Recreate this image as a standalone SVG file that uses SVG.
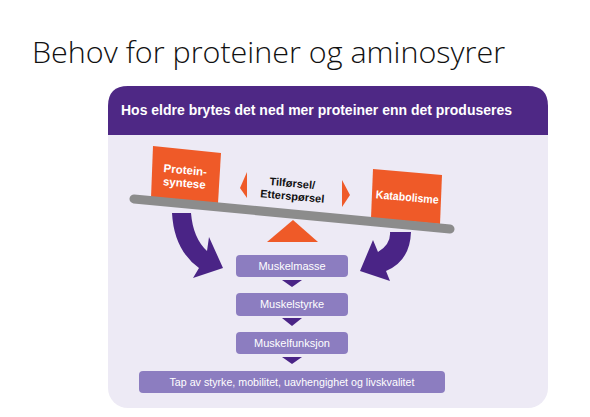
<svg xmlns="http://www.w3.org/2000/svg" width="590" height="417" viewBox="0 0 590 417">
<defs>
<style>
.title{font-family:"Open Sans","Liberation Sans",sans-serif;font-weight:300;font-size:29px;fill:#111}
.hdr{font-family:"Liberation Sans",Arial,sans-serif;font-weight:bold;font-size:15px;fill:#fff}
.ow{font-family:"Liberation Sans",Arial,sans-serif;font-weight:bold;font-size:11.5px;fill:#fff;text-anchor:middle}
.bk{font-family:"Liberation Sans",Arial,sans-serif;font-weight:bold;font-size:11px;fill:#111;text-anchor:middle}
.bx{fill:#8c7dc0}
.bt{font-family:"Liberation Sans",Arial,sans-serif;font-size:11px;fill:#fff;text-anchor:middle}
.org{fill:#ef5a28}
.dp{fill:#4a2486}
</style>
</defs>
<rect width="590" height="417" fill="#fff"/>
<text class="title" x="32" y="63" textLength="473" lengthAdjust="spacingAndGlyphs">Behov for proteiner og aminosyrer</text>

<g id="panel">
<rect x="108" y="86" width="440" height="322" rx="20" fill="#edeaf5"/>
<path d="M108,135 L108,106 Q108,86 128,86 L528,86 Q548,86 548,106 L548,135 Z" fill="#4e2885"/>
<text class="hdr" x="121" y="115" textLength="391" lengthAdjust="spacingAndGlyphs">Hos eldre brytes det ned mer proteiner enn det produseres</text>
</g>

<g id="proteinsyntese">
<polygon class="org" points="153,146 221,153 218,203 151,198"/>
<text class="ow" x="185" y="174" transform="rotate(5 185 174)">Protein-</text>
<text class="ow" x="184" y="187" transform="rotate(5 184 187)">syntese</text>
</g>

<g id="katabolisme">
<polygon class="org" points="373,169 442,175 440,224 371,218"/>
<text class="ow" x="407" y="201" transform="rotate(5 407 201)" textLength="63" lengthAdjust="spacingAndGlyphs">Katabolisme</text>
</g>

<g id="tilforsel">
<polygon class="org" points="240,188 247,172 247,198"/>
<polygon class="org" points="350,195 342,180 342,207"/>
<text class="bk" x="292" y="187" transform="rotate(5 292 187)">Tilførsel/</text>
<text class="bk" x="292" y="200" transform="rotate(5 292 200)">Etterspørsel</text>
</g>

<g id="beam">
<line x1="134" y1="199" x2="450" y2="229" stroke="#8c8c8c" stroke-width="9" stroke-linecap="round"/>
<polygon class="org" points="293,220 318,242 267,242"/>
</g>

<g id="muskelmasse">
<rect class="bx" x="236" y="255" width="112" height="22" rx="4"/>
<text class="bt" x="292" y="270">Muskelmasse</text>
</g>
<g id="muskelstyrke">
<rect class="bx" x="236" y="293" width="112" height="23" rx="4"/>
<text class="bt" x="292" y="308">Muskelstyrke</text>
</g>
<g id="muskelfunksjon">
<rect class="bx" x="236" y="332" width="112" height="22" rx="4"/>
<text class="bt" x="292" y="347">Muskelfunksjon</text>
</g>
<g id="tap">
<rect class="bx" x="139" y="371" width="306" height="22" rx="4"/>
<text class="bt" x="292" y="386" textLength="245" lengthAdjust="spacingAndGlyphs">Tap av styrke, mobilitet, uavhengighet og livskvalitet</text>
</g>

<g id="connectors">
<path class="dp" d="M172,213 L191,213 Q193,238 207,251 L209,237 L223,268 L193,278 L199,268 Q174,250 172,213 Z"/>
<path class="dp" d="M390,232 L411,232 Q410,261 386,271 L390,281 L360,271 L373,240 L378,252 Q391,244 390,232 Z"/>
<polygon class="dp" points="282,280 302,280 292,287"/>
<polygon class="dp" points="282,318 302,318 292,326"/>
<polygon class="dp" points="282,357 302,357 292,364"/>
</g>
</svg>
